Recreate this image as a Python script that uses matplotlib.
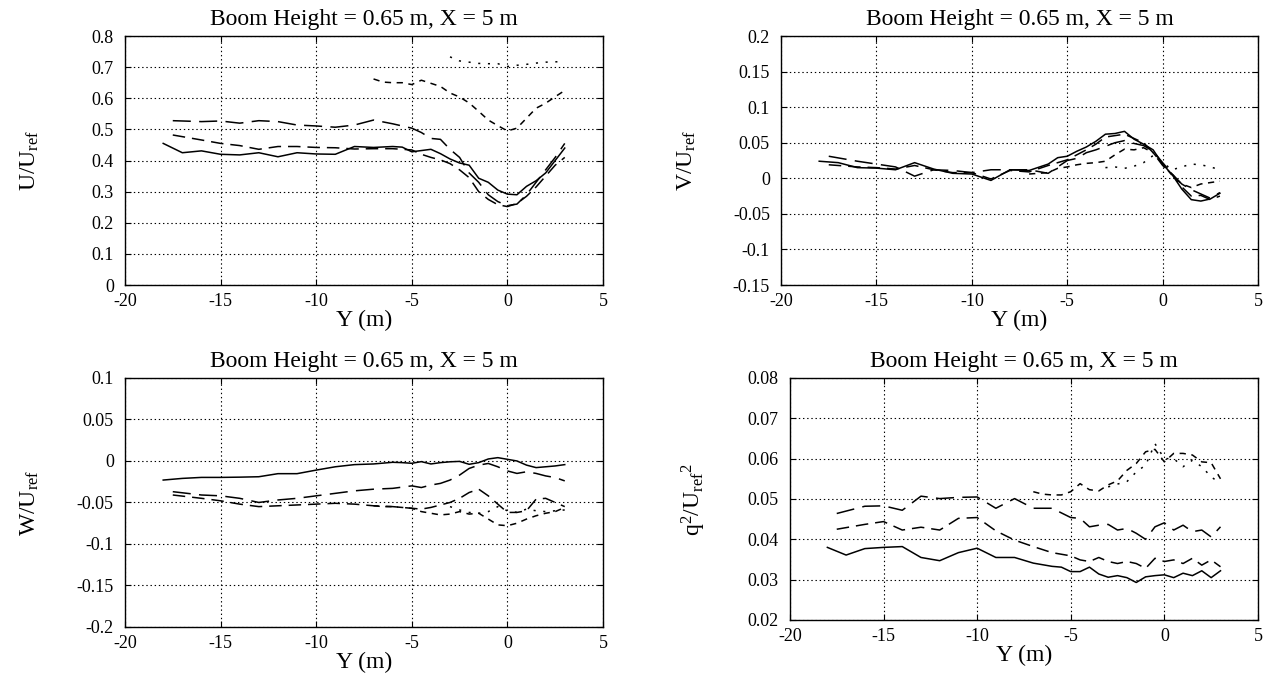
import matplotlib
matplotlib.use("Agg")
import matplotlib.pyplot as plt

plt.rcParams['font.family'] = ['Liberation Serif', 'DejaVu Serif']
plt.rcParams['mathtext.fontset'] = 'custom'
plt.rcParams['mathtext.rm'] = 'Liberation Serif'
plt.rcParams['mathtext.it'] = 'Liberation Serif:italic'
plt.rcParams['lines.scale_dashes'] = False

# ---- spanwise stations (m) for each traverse ----
y_a = [-18, -17, -16, -15, -14, -13, -12, -11, -10, -9, -8, -7, -6,
       -5.5, -5, -4.5, -4, -3.5, -3, -2.5, -2, -1.5, -1, -0.5, 0, 0.5, 1, 1.5, 2, 2.5, 3]
y_b = [-17.5, -16, -15, -14, -13, -12, -11, -10, -9, -8, -7, -6,
       -5, -4.5, -4, -3.5, -3, -2.5, -2, -1.5, -1, -0.5, 0, 0.5, 1, 1.5, 2, 2.5, 3]
y_c = y_b
y_d = [-7, -6.5, -6, -5.5, -5, -4.5, -4, -3.5, -3, -2.5, -2, -1.5, -1, -0.5, 0, 0.5, 1, 1.5, 2, 2.5, 3]
y_e = [-3, -2.5, -2, -1.5, -1, -0.5, 0, 0.5, 1, 1.5, 2, 2.5, 3]

# ---- U/Uref ----
u_a = [.455, .425, .431, .42, .418, .425, .412, .425, .421, .42, .445, .442, .445,
       .443, .428, .432, .436, .422, .405, .392, .385, .343, .33, .305, .292, .29, .317, .335, .36, .40, .44]
u_b = [.528, .525, .527, .52, .528, .525, .514, .511, .507, .514, .53, .518,
       .504, .49, .471, .468, .436, .41, .36, .33, .29, .268, .255, .26, .29, .33, .37, .41, .455]
u_c = [.482, .466, .455, .448, .436, .445, .445, .442, .441, .437, .438, .438,
       .434, .42, .41, .402, .39, .37, .345, .30, .275, .258, .252, .262, .285, .315, .35, .385, .41]
u_d = [.662, .652, .65, .65, .644, .658, .648, .638, .617, .604, .585, .558, .53, .512,
       .495, .504, .536, .568, .584, .605, .625]
u_e = [.733, .72, .716, .712, .711, .711, .702, .706, .709, .713, .716, .717, .718]

# ---- V/Uref ----
v_a = [.024, .022, .015, .0143, .012, .022, .013, .007, .006, -.003, .012, .011, .02,
       .029, .031, .038, .044, .052, .062, .063, .066, .055, .048, .04, .02, .005, -.015, -.03, -.032, -.029, -.021]
v_b = [.031, .024, .02, .016, .003, .012, .011, .008, .012, .012, .012, .007,
       .025, .028, .036, .04, .045, .05, .053, .049, .046, .038, .022, .006, -.008, -.016, -.022, -.028, -.02]
v_c = [.019, .016, .015, .013, .018, .012, .008, .008, -.001, .011, .009, .018,
       .026, .033, .04, .048, .058, .06, .062, .056, .05, .036, .018, .006, -.012, -.025, -.024, -.03, -.025]
v_d = [.006, .007, .008, .014, .016, .019, .021, .022, .024, .033, .041, .04, .043, .036,
       .02, .004, -.008, -.013, -.008, -.006, -.004]
v_e = [.015, .016, .014, .017, .022, .032, .022, .012, .016, .02, .019, .016, .012]

# ---- W/Uref ----
w_a = [-.023, -.021, -.0198, -.0198, -.0195, -.019, -.0153, -.0153, -.011, -.007, -.0044, -.0036, -.0016,
       -.002, -.0028, -.0008, -.0036, -.002, -.001, -.0005, -.004, -.002, .0024, .004, .002, 0.0, -.005, -.008, -.007, -.006, -.0044]
w_b = [-.037, -.041, -.042, -.045, -.05, -.047, -.045, -.042, -.039, -.036, -.034, -.033,
       -.03, -.032, -.029, -.027, -.023, -.017, -.009, -.005, -.003, -.007, -.012, -.015, -.013, -.015, -.018, -.02, -.024]
w_c = [-.041, -.045, -.048, -.052, -.055, -.054, -.053, -.052, -.051, -.052, -.054, -.055,
       -.057, -.058, -.056, -.053, -.05, -.045, -.038, -.034, -.042, -.052, -.062, -.062, -.06, -.046, -.045, -.05, -.055]
w_d = [-.054, -.055, -.055, -.056, -.057, -.061, -.063, -.065, -.064, -.061, -.064, -.063, -.07, -.077,
       -.078, -.075, -.07, -.066, -.063, -.061, -.056]
w_e = [-.055, -.059, -.062, -.063, -.061, -.055, -.06, -.062, -.058, -.06, -.061, -.06, -.059]

# ---- q^2/Uref^2 ----
q_a = [.038, .0361, .0377, .038, .0382, .0355, .0347, .0367, .0378, .0355, .0355, .0341, .0333,
       .0331, .032, .032, .0331, .0314, .0306, .031, .0305, .0293, .0307, .031, .0312, .0305, .0316, .031, .0322, .0305, .0322]
q_b = [.0464, .0482, .0483, .0472, .0507, .0501, .0504, .0505, .0477, .0501, .0477, .0477,
       .0454, .0452, .0431, .0435, .0437, .0423, .0427, .0415, .040, .0431, .0441, .0423, .0435, .0419, .0423, .0406, .0431]
q_c = [.0425, .0437, .0444, .0423, .043, .0423, .0452, .0454, .0421, .0398, .0382, .0367,
       .0359, .0349, .0345, .0355, .0345, .034, .0345, .034, .0328, .0353, .0345, .0349, .034, .0353, .0336, .0349, .0332]
q_d = [.0518, .0512, .051, .051, .0518, .0538, .0523, .052, .0535, .0545, .0571, .0588, .0617, .0623,
       .0592, .0613, .0613, .0609, .0592, .059, .055]
q_e = [.053, .0537, .0543, .0567, .0584, .0637, .060, .060, .058, .0596, .058, .0555, .0538]

x_ticks = [-20, -15, -10, -5, 0, 5]
x_ticklabels = ['-20', '-15', '-10', '-5', '0', '5']
title_text = 'Boom Height = 0.65 m, X = 5 m'

styles = [
    dict(ls='-'),
    dict(ls=(0, (13, 6))),
    dict(ls=(0, (9, 5))),
    dict(ls=(0, (4.5, 4))),
    dict(ls=(0, (1.5, 5.5))),
]

panels = [
    dict(rect=[0.0984, 0.579, 0.3764, 0.3678],
         series=[(y_a, u_a), (y_b, u_b), (y_c, u_c), (y_d, u_d), (y_e, u_e)],
         ylim=(0, 0.8),
         yticks=[0, 0.1, 0.2, 0.3, 0.4, 0.5, 0.6, 0.7, 0.8],
         ylabels=['0', '0.1', '0.2', '0.3', '0.4', '0.5', '0.6', '0.7', '0.8'],
         ylabel=r'U/U$_{\mathrm{ref}}$'),
    dict(rect=[0.615, 0.579, 0.3756, 0.3678],
         series=[(y_a, v_a), (y_b, v_b), (y_c, v_c), (y_d, v_d), (y_e, v_e)],
         ylim=(-0.15, 0.2),
         yticks=[-0.15, -0.1, -0.05, 0, 0.05, 0.1, 0.15, 0.2],
         ylabels=['-0.15', '-0.1', '-0.05', '0', '0.05', '0.1', '0.15', '0.2'],
         ylabel=r'V/U$_{\mathrm{ref}}$'),
    dict(rect=[0.0984, 0.0739, 0.3764, 0.3678],
         series=[(y_a, w_a), (y_b, w_b), (y_c, w_c), (y_d, w_d), (y_e, w_e)],
         ylim=(-0.2, 0.1),
         yticks=[-0.2, -0.15, -0.1, -0.05, 0, 0.05, 0.1],
         ylabels=['-0.2', '-0.15', '-0.1', '-0.05', '0', '0.05', '0.1'],
         ylabel=r'W/U$_{\mathrm{ref}}$'),
    dict(rect=[0.622, 0.0842, 0.3685, 0.3575],
         series=[(y_a, q_a), (y_b, q_b), (y_c, q_c), (y_d, q_d), (y_e, q_e)],
         ylim=(0.02, 0.08),
         yticks=[0.02, 0.03, 0.04, 0.05, 0.06, 0.07, 0.08],
         ylabels=['0.02', '0.03', '0.04', '0.05', '0.06', '0.07', '0.08'],
         ylabel=r'q$^{2}$/U$_{\mathrm{ref}}$$^{2}$'),
]

fig = plt.figure(figsize=(12.7, 6.77), dpi=100)

for p in panels:
    ax = fig.add_axes(p['rect'])
    for (xs, ys), st in zip(p['series'], styles):
        ax.plot(xs, ys, color='black', lw=1.1, **st)
    ax.set_xlim(-20, 5)
    ax.set_ylim(*p['ylim'])
    ax.set_xticks(x_ticks)
    ax.set_xticklabels(x_ticklabels)
    ax.set_yticks(p['yticks'])
    ax.set_yticklabels(p['ylabels'])
    ax.grid(True, color='black', lw=0.8, ls=(0, (1, 2)))
    ax.tick_params(direction='in', top=True, right=True, length=4, width=0.8,
                   labelsize=13)
    ax.tick_params(axis='y', pad=8)
    ax.tick_params(axis='x', pad=6)
    for s in ax.spines.values():
        s.set_linewidth(1.0)
    ax.set_title(title_text, fontsize=17, pad=8)
    ax.set_xlabel('Y (m)', fontsize=17, labelpad=0)
    ax.set_ylabel(p['ylabel'], fontsize=17)
    ax.yaxis.set_label_coords(-0.175, 0.5)

fig.savefig('out.png', dpi=100)
